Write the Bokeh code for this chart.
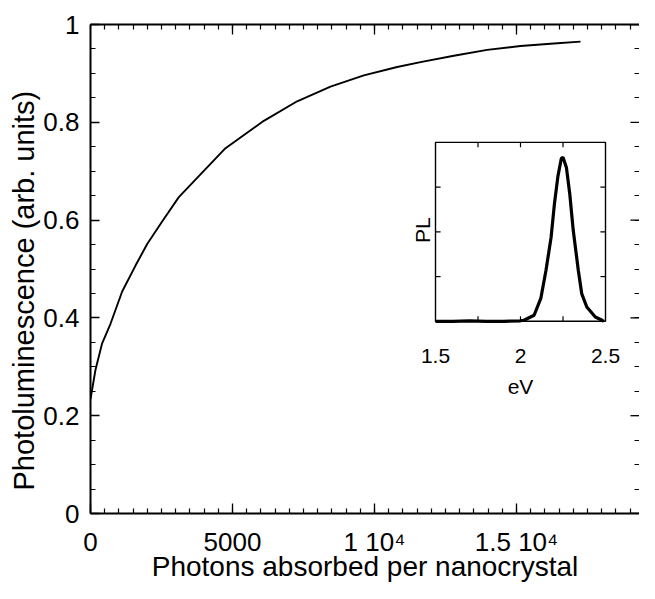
import math
from bokeh.plotting import figure
from bokeh.models import Range1d, FixedTicker, LinearAxis, Title
from bokeh.embed import file_html
from bokeh.resources import INLINE
from bokeh.core.properties import value

# ---------------- data ----------------
photons = [0, 176, 410, 704, 1115, 1585, 1996, 2523, 3110, 3814, 4754, 6103,
           7277, 8451, 9624, 10798, 11620, 12793, 13967, 15141, 16314, 17254]
pl_main = [0.234, 0.294, 0.348, 0.388, 0.454, 0.507, 0.551, 0.597, 0.647, 0.690,
           0.747, 0.803, 0.843, 0.873, 0.896, 0.913, 0.923, 0.936, 0.948, 0.956,
           0.961, 0.965]

ev = [1.5, 1.6, 1.7, 1.8, 1.9, 2.0, 2.02, 2.08, 2.12, 2.15, 2.18, 2.20, 2.22,
      2.24, 2.25, 2.27, 2.29, 2.31, 2.34, 2.36, 2.39, 2.44, 2.48, 2.49]
pl_inset = [0.0, 0.0, 0.002, 0.0, 0.0, 0.003, 0.006, 0.034, 0.13, 0.285, 0.47,
            0.66, 0.81, 0.91, 0.916, 0.86, 0.71, 0.51, 0.285, 0.155, 0.08, 0.024,
            0.006, 0.0]

x_major = [0, 5000, 10000, 15000]
x_major_labels = ["0", "5000", "1 10\u2074", "1.5 10\u2074"]
x_minor = list(range(0, 20001, 500))
y_major = [0, 0.2, 0.4, 0.6, 0.8, 1.0]
y_major_labels = ["0", "0.2", "0.4", "0.6", "0.8", "1"]
y_minor = [i * 0.05 for i in range(21)]

inset_x_ticks = [1.75, 2.0, 2.25]
inset_x_labels_at = [1.5, 2.0, 2.5]
inset_x_labels = ["1.5", "2", "2.5"]
inset_y_ticks = [0.25, 0.5, 0.75]

FONT = "Liberation Sans"

X_END = 19331
FRAME_H = 489
# ---------------- main figure ----------------
p = figure(frame_width=549, frame_height=FRAME_H, x_range=Range1d(0, X_END), y_range=Range1d(0, 1),
           output_backend="svg", toolbar_location=None,
           min_border_left=90, min_border_right=0, min_border_top=24,
           min_border_bottom=583 - 24 - FRAME_H)
p.outline_line_color = None
p.xgrid.visible = False
p.ygrid.visible = False

def style_axis(ax, ticker, line=True):
    ax.ticker = ticker
    ax.axis_line_width = 2
    ax.axis_line_color = "black" if line else None
    ax.major_tick_in = 9
    ax.major_tick_out = 0
    ax.minor_tick_in = 5
    ax.minor_tick_out = 0
    ax.major_tick_line_width = 1.3
    ax.minor_tick_line_width = 1.2
    ax.major_label_text_font = FONT
    ax.major_label_text_font_size = "26px"
    ax.major_label_text_color = "black"
    ax.axis_label_text_font = FONT
    ax.axis_label_text_font_size = "28px"
    ax.axis_label_text_font_style = "normal"
    ax.axis_label_text_color = "black"

xa = p.xaxis[0]
style_axis(xa, FixedTicker(ticks=x_major, minor_ticks=x_minor))
xa.major_tick_in = 10
xa.major_label_overrides = dict(zip(x_major, x_major_labels))
xa.major_label_standoff = 13
xa.axis_label = "Photons absorbed per nanocrystal"
xa.axis_label_standoff = -9

ya = p.yaxis[0]
style_axis(ya, FixedTicker(ticks=y_major, minor_ticks=y_minor))
ya.major_label_overrides = dict(zip(y_major, y_major_labels))
ya.major_label_standoff = 11

# top axis: line + minor ticks (no labels)
top = LinearAxis(ticker=FixedTicker(ticks=[], minor_ticks=x_minor))
style_axis(top, top.ticker)
p.add_layout(top, "above")

# right side: minor ticks only, no visible line (it lies just outside the view)
right = LinearAxis(ticker=FixedTicker(ticks=[], minor_ticks=y_minor))
style_axis(right, right.ticker, line=False)
p.add_layout(right, "right")

# major ticks on top and right edges
p.segment(x0=x_major[1:], y0=[1.0] * 3, x1=x_major[1:], y1=[1.0 - 10 / FRAME_H] * 3,
          line_color="black", line_width=1.3)
p.segment(x0=[X_END] * len(y_major), y0=y_major, x1=[X_END - 320] * len(y_major), y1=y_major,
          line_color="black", line_width=1.3)

# y-axis title (placed like the reference: slightly below the frame's centre)
p.add_layout(Title(text="Photoluminescence (arb. units)", align="left", offset=23,
                   standoff=1, text_font=FONT, text_font_size="29px",
                   text_font_style="normal", text_color="black"), "left")

p.line(photons, pl_main, line_color="black", line_width=1.9)

# ---------------- inset ----------------
ix0, ix1 = inset_x_labels_at[0], inset_x_labels_at[-1]
iy0, iy1 = 0.0, 1.0
sub = p.subplot(x_source=Range1d(ix0, ix1), y_source=Range1d(iy0, iy1),
                x_target=Range1d(12148, 18134), y_target=Range1d(0.393, 0.759))

sub.quad(left=[ix0], right=[ix1], bottom=[iy0], top=[iy1],
         fill_color="white", line_color="black", line_width=1.4)

tl_y = 0.028
tl_x = 0.03
sub.segment(x0=inset_x_ticks, y0=[iy0] * 3, x1=inset_x_ticks, y1=[iy0 + tl_y] * 3,
            line_color="black", line_width=1.2)
sub.segment(x0=inset_x_ticks, y0=[iy1] * 3, x1=inset_x_ticks, y1=[iy1 - tl_y] * 3,
            line_color="black", line_width=1.2)
sub.segment(x0=[ix0] * 3, y0=inset_y_ticks, x1=[ix0 + tl_x] * 3, y1=inset_y_ticks,
            line_color="black", line_width=1.2)
sub.segment(x0=[ix1] * 3, y0=inset_y_ticks, x1=[ix1 - tl_x] * 3, y1=inset_y_ticks,
            line_color="black", line_width=1.2)

sub.line(ev, pl_inset, line_color="black", line_width=3.2)

sub.text(x=inset_x_labels_at, y=[iy0] * 3, text=inset_x_labels,
         text_font=value(FONT), text_font_size="21px", text_color="black",
         text_align="center", text_baseline="alphabetic", y_offset=35)
sub.text(x=[2.0], y=[iy0], text=["eV"],
         text_font=value(FONT), text_font_size="21px", text_color="black",
         text_align="center", text_baseline="alphabetic", y_offset=65)
pl_label_x = ix0 - (ix1 - ix0) * 13 / 170
sub.text(x=[pl_label_x], y=[0.51], text=["PL"], angle=math.pi / 2,
         text_font=value(FONT), text_font_size="21px", text_color="black",
         text_align="center", text_baseline="alphabetic")

open("out.html", "w").write(file_html(p, INLINE))
